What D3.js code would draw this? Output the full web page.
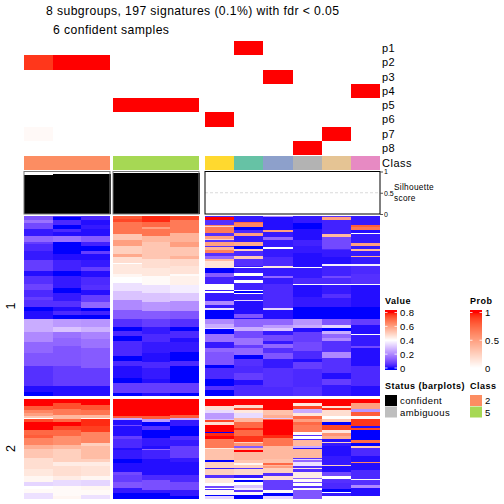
<!DOCTYPE html>
<html><head><meta charset="utf-8">
<script src="https://cdn.jsdelivr.net/npm/d3@7"></script>
<style>html,body{margin:0;padding:0;background:#fff}svg{display:block}text{font-family:"Liberation Sans",Arial,sans-serif;fill:#000}</style>
</head><body><svg id="c" width="504" height="504"></svg>
<script>
// Sample classes, probabilities of membership and silhouette scores
const probRows = ["p1","p2","p3","p4","p5","p6","p7","p8"];
const sampleClass = [2,2,2,5,5,5,6,1,3,8,7,4];
const p1 = [0,0,0,0,0,0,0,1,0,0,0,0];
const p2 = [0.92,1,1,0,0,0,0,0,0,0,0,0];
const p3 = [0,0,0,0,0,0,0,0,1,0,0,0];
const p4 = [0,0,0,0,0,0,0,0,0,0,0,1];
const p5 = [0,0,0,1,1,1,0,0,0,0,0,0];
const p6 = [0,0,0,0,0,0,1,0,0,0,0,0];
const p7 = [0.03,0,0,0,0,0,0,0,0,0,1,0];
const p8 = [0,0,0,0,0,0,0,0,0,1,0,0];
const silhouette = [0.92,0.94,0.94,0.975,0.975,0.975];
const legendValueTicks = [0,0.2,0.4,0.6,0.8];
const legendProbTicks = [0,0.5,1];
const legendStatus = ["confident","ambiguous"];
const legendClass = [2,5];

// Heatmap columns: run lengths [rows, value], signature cluster 1 (127 rows)
const h1s1 = [[3,.11],[2,.16],[4,.09],[5,.02],[4,.14],[2,.07],[5,.04],[6,.02],[8,.07],[3,.01],[6,.05],[4,.08],[5,.04],[2,.07],[5,.05],[3,0],[6,.01],[5,.26],[4,.26],[7,.2],[8,.14],[9,.11],[14,.05],[4,.01],[3,0]];
const h1s2 = [[1,.05],[2,0],[3,.04],[3,0],[2,.04],[3,.01],[4,.16],[9,0],[4,.01],[8,.03],[3,0],[4,.02],[5,.02],[3,0],[6,.02],[4,.05],[3,.01],[3,.04],[3,0],[5,.23],[4,.3],[4,.16],[6,.14],[14,.11],[14,.07],[7,.01]];
const h1s3 = [[3,.04],[3,.01],[3,.02],[5,.01],[4,.12],[3,.03],[4,0],[2,.07],[4,.01],[5,.02],[3,.07],[4,.01],[6,.04],[3,.05],[4,.01],[5,.07],[4,.14],[2,0],[3,.03],[3,0],[5,.22],[4,.27],[5,.19],[6,.16],[14,.12],[13,.07],[7,.01]];
const h1s4 = [[2,.72],[2,.75],[9,.68],[4,.52],[4,.6],[6,.5],[2,.58],[4,.47],[1,.4],[7,.45],[2,.42],[4,.4],[6,.35],[6,.3],[7,.2],[7,.12],[5,.05],[3,0],[4,.04],[3,0],[11,.04],[3,0],[4,.04],[8,.01],[4,0],[7,.07],[2,0]];
const h1s5 = [[4,.78],[4,.7],[1,.6],[5,.68],[4,.55],[7,.52],[5,.52],[7,.47],[5,.45],[7,.41],[5,.35],[7,.3],[6,.22],[6,.12],[5,.07],[5,.02],[6,.04],[8,.02],[6,.01],[4,.04],[8,.02],[3,.01],[7,.07],[2,.01]];
const h1s6 = [[3,.75],[9,.67],[6,.56],[4,.6],[6,.52],[2,.56],[5,.48],[6,.46],[1,.41],[7,.43],[5,.37],[6,.31],[7,.21],[6,.11],[5,.05],[3,0],[5,.04],[3,.01],[7,.02],[6,0],[4,.04],[12,0],[7,.07],[2,0]];
const h1s7 = [[1,.04],[2,.8],[3,.05],[1,.65],[1,.5],[4,.67],[2,.05],[2,.6],[1,.5],[1,.05],[3,.6],[1,.05],[2,.56],[2,.66],[2,.05],[2,.14],[2,.55],[5,.46],[3,0],[3,.12],[5,.03],[4,.4],[1,.02],[1,.4],[6,.02],[3,.2],[2,.02],[1,.35],[7,0],[3,.2],[3,.26],[1,.34],[3,0],[6,.16],[4,.02],[3,.14],[9,.11],[2,0],[8,.04],[5,0],[3,.05],[4,0]];
const h1s8 = [[4,.02],[1,.7],[3,.65],[2,0],[2,.04],[2,.6],[4,.02],[3,.58],[2,0],[2,.5],[3,.04],[2,.52],[5,.05],[1,.02],[1,.4],[3,.02],[2,.4],[3,.02],[2,.4],[5,.03],[1,.4],[1,0],[1,.4],[4,.02],[1,.33],[9,.01],[3,.11],[1,.01],[5,.14],[3,.26],[5,.09],[5,.16],[2,.07],[5,.14],[3,0],[5,.05],[5,.04],[5,.07],[3,.01],[8,.04]];
const h1s9 = [[1,.2],[9,.01],[1,.6],[4,.02],[2,.14],[5,.02],[1,.4],[6,.02],[6,.04],[2,.45],[5,.02],[2,.14],[4,.02],[11,.04],[6,.04],[1,.33],[7,.01],[4,.14],[2,.23],[2,.3],[3,.02],[4,.09],[2,.02],[3,.14],[4,.05],[4,.11],[6,.02],[3,.05],[11,.05],[6,.04]];
const h1s10 = [[5,.02],[4,0],[8,.01],[4,.03],[5,.02],[10,.01],[1,.4],[7,.02],[4,.04],[1,.4],[8,.01],[7,.02],[9,0],[4,.22],[2,.26],[3,.01],[7,.07],[6,.09],[6,.04],[2,.01],[5,.07],[13,.04],[6,.05]];
const h1s11 = [[1,.05],[2,.6],[10,.03],[2,.55],[8,.09],[1,.04],[5,.02],[5,.01],[1,.37],[7,.03],[2,.09],[4,.04],[1,.4],[6,.02],[3,.05],[6,.02],[9,0],[4,.11],[2,.33],[2,0],[2,.26],[3,.14],[2,.2],[8,.05],[4,.2],[4,.05],[7,.05],[4,.01],[4,.07],[8,.02]];
const h1s12 = [[6,.02],[2,.72],[2,.68],[2,.01],[1,.4],[6,.02],[2,.6],[2,.02],[2,.55],[3,.02],[1,.58],[5,.02],[1,.37],[6,.04],[7,.05],[1,.4],[15,.01],[9,0],[4,.07],[6,.01],[1,.4],[8,.02],[1,.09],[13,.01],[14,.04],[7,.01]];

// Heatmap columns, signature cluster 2 (70 rows)
const h2s1 = [[5,.8],[3,.72],[2,.65],[2,.6],[1,.52],[1,.4],[2,.75],[6,.8],[3,.7],[2,.72],[5,.65],[3,.57],[6,.52],[2,.47],[6,.47],[5,.45],[4,.42],[3,.33],[2,.4],[3,.41],[4,.35]];
const h2s2 = [[3,.8],[4,.74],[4,.67],[3,.55],[2,.7],[3,.8],[3,.75],[4,.7],[6,.63],[3,.55],[9,.5],[3,.44],[7,.47],[3,.44],[4,.34],[7,.41],[2,.42]];
const h2s3 = [[4,.8],[4,.73],[3,.68],[2,.55],[1,.42],[5,.78],[4,.76],[8,.65],[2,.5],[9,.54],[2,.5],[3,.44],[7,.46],[3,.42],[4,.33],[3,.42],[3,.41],[3,.35]];
const h2s4 = [[12,.8],[1,.72],[2,.26],[3,.01],[1,.09],[7,.01],[2,.07],[6,.04],[2,.01],[6,.02],[3,0],[6,.01],[2,.09],[5,.07],[4,.11],[4,.02],[4,0]];
const h2s5 = [[12,.8],[2,.72],[2,.23],[3,0],[3,.05],[5,0],[6,.02],[2,.01],[1,.14],[6,.03],[3,.01],[8,.01],[4,.04],[7,.1],[2,.02],[4,0]];
const h2s6 = [[11,.8],[2,.72],[2,.26],[4,.02],[7,0],[3,.04],[4,.02],[8,.07],[3,.02],[9,.01],[5,.04],[6,.09],[4,.02],[2,0]];
const h2s7 = [[5,.8],[3,.47],[2,.34],[4,.23],[1,.3],[1,.75],[2,.47],[5,.8],[1,0],[2,.78],[2,.8],[6,.67],[1,.45],[8,.53],[1,0],[4,.5],[1,.02],[4,.5],[2,.05],[4,.45],[2,.4],[1,.09],[1,.4],[1,.05],[3,.41],[1,0],[2,.33]];
const h2s8 = [[4,.8],[2,.48],[2,.75],[2,.45],[3,.34],[3,.55],[4,.7],[2,.78],[4,.7],[4,.77],[1,.5],[2,.62],[1,.12],[2,.55],[1,.8],[6,.55],[2,.52],[1,.42],[2,.5],[1,.05],[4,.48],[2,.02],[2,.41],[1,0],[2,.4],[2,.3],[2,.37],[1,.05],[2,.41],[3,0]];
const h2s9 = [[8,.8],[3,.53],[2,.57],[1,.31],[1,.7],[10,.8],[2,.78],[6,.68],[9,.55],[3,.53],[1,.7],[1,.55],[1,.6],[4,.5],[2,.05],[3,.47],[7,.07],[2,.41],[2,0],[2,.33]];
const h2s10 = [[3,.8],[2,.45],[2,.75],[3,.26],[2,.45],[2,.7],[2,.6],[2,.7],[5,.67],[2,.41],[1,.05],[2,.4],[1,.04],[4,.55],[1,.26],[1,.01],[6,.55],[1,.05],[1,.33],[1,.14],[3,.35],[1,.05],[1,.45],[2,.05],[4,.44],[1,.14],[2,.41],[1,.09],[2,.4],[1,.05],[2,.41],[6,.11]];
const h2s11 = [[5,.8],[1,.46],[2,.78],[4,.47],[2,.4],[2,.52],[2,0],[4,.75],[2,.45],[2,.62],[2,.57],[2,.01],[1,.5],[2,.02],[7,.01],[6,.02],[1,.5],[4,.01],[3,.09],[2,.4],[3,.05],[4,.04],[2,0],[1,.4],[2,.02],[2,.4]];
const h2s12 = [[3,.8],[4,.6],[2,.22],[3,.72],[2,.41],[5,.77],[1,.01],[2,.75],[7,0],[2,.7],[2,0],[1,.52],[6,.04],[4,.01],[1,.65],[5,.01],[6,.04],[1,.41],[3,.05],[2,.2],[6,.01],[2,.4]];

const cluster1 = [h1s1,h1s2,h1s3,h1s4,h1s5,h1s6,h1s7,h1s8,h1s9,h1s10,h1s11,h1s12];
const cluster2 = [h2s1,h2s2,h2s3,h2s4,h2s5,h2s6,h2s7,h2s8,h2s9,h2s10,h2s11,h2s12];
const probMatrix = [p1,p2,p3,p4,p5,p6,p7,p8];

const svg = d3.select("#c");
const valueColor = d3.scaleLinear().domain([0,0.4,0.8]).range(["#0000ff","#ffffff","#ff0000"]).interpolate(d3.interpolateLab).clamp(true);
const probColor = d3.scaleLinear().domain([0,1]).range(["#ffffff","#ff0000"]).interpolate(d3.interpolateLab);
const classColor = c => d3.schemeSet2[c-1];

// sample scales: three groups separated by gaps
const groups = [[0,3,24,110],[3,6,113,199],[6,12,205,380]];
const xOf = [], wOf = [];
groups.forEach(([a,b,x0,x1])=>{
  const s = d3.scaleBand().domain(d3.range(a,b)).range([x0,x1]);
  d3.range(a,b).forEach(i=>{xOf[i]=s(i);wOf[i]=s.bandwidth();});
});
const label = (x,y,size,t,ls)=>svg.append("text").attr("x",x).attr("y",y).attr("font-size",size).attr("letter-spacing",ls).text(t);

// title
label(46,14.5,12.2,"8 subgroups, 197 signatures (0.1%) with fdr < 0.05",0.4);
label(53,33.5,12.2,"6 confident samples",0.42);

// probability annotation
const yProb = d3.scaleBand().domain(probRows).range([41,155]);
probRows.forEach((r,ri)=>{
  svg.append("g").selectAll("rect").data(probMatrix[ri]).join("rect")
    .attr("x",(d,i)=>xOf[i]).attr("width",(d,i)=>wOf[i])
    .attr("y",yProb(r)).attr("height",yProb.bandwidth())
    .attr("fill",d=>probColor(d)).attr("shape-rendering","crispEdges");
  label(382,yProb(r)+yProb.bandwidth()/2+4,11,r,0.4);
});

// class annotation
svg.append("g").selectAll("rect").data(sampleClass).join("rect")
  .attr("x",(d,i)=>xOf[i]).attr("width",(d,i)=>wOf[i]).attr("y",156).attr("height",14)
  .attr("fill",classColor).attr("shape-rendering","crispEdges");
label(382,167,11,"Class",0.5);

// silhouette
const ySil = d3.scaleLinear().domain([0,1]).range([214,171.5]);
svg.append("g").selectAll("rect").data(silhouette).join("rect")
  .attr("x",(d,i)=>xOf[i]).attr("width",(d,i)=>wOf[i]+0.5)
  .attr("y",d=>ySil(d)).attr("height",d=>ySil(0)-ySil(d)).attr("fill","#000").attr("shape-rendering","crispEdges");
groups.forEach(([a,b,x0,x1],k)=>{
  if(k===2){
    svg.append("line").attr("x1",x0).attr("x2",x1).attr("y1",ySil(.5)).attr("y2",ySil(.5))
      .attr("stroke","#d0d0d0").attr("stroke-dasharray","3,2").attr("stroke-width",0.8);
  }
  svg.append("rect").attr("x",x0).attr("y",ySil(1)).attr("width",x1-x0).attr("height",ySil(0)-ySil(1))
    .attr("fill","none").attr("stroke",k===2?"#000":"#777").attr("stroke-width",1);
});
const silAxis = d3.axisRight(ySil).tickValues([0,0.5,1]).tickFormat(d3.format("")).tickSize(3).tickPadding(1);
const axG = svg.append("g").attr("transform","translate(380,0)").call(silAxis);
axG.select(".domain").remove();
axG.selectAll("line").attr("stroke","#555");
axG.selectAll("text").attr("font-size",7).attr("font-family","Liberation Sans");
label(394,190,8.3,"Silhouette",0.3);
label(394,201,8.3,"score",0.3);

// heatmaps
function drawCluster(cols, y0, y1){
  const n = d3.sum(cols[0], r=>r[0]);
  const y = d3.scaleLinear().domain([0,n]).range([y0,y1]);
  cols.forEach((runs,i)=>{
    let at = 0;
    const laid = runs.map(([c,v])=>{const o={s:at,c,v};at+=c;return o;});
    svg.append("g").selectAll("rect").data(laid).join("rect")
      .attr("x",xOf[i]).attr("width",wOf[i])
      .attr("y",d=>y(d.s)).attr("height",d=>y(d.s+d.c)-y(d.s))
      .attr("fill",d=>valueColor(d.v)).attr("shape-rendering","crispEdges");
  });
}
drawCluster(cluster1,216,396);
drawCluster(cluster2,399,499);
[[1,306],[2,448.5]].forEach(([t,cy])=>{
  svg.append("text").attr("transform",`translate(15,${cy}) rotate(-90)`).attr("text-anchor","middle")
    .attr("font-size",12.5).text(t);
});

// legends
function gradientLegend(x,title,dom,yRange,ticks,color,fmt){
  label(x,304,9,title,0.5).attr("font-weight","bold");
  const y = d3.scaleLinear().domain(dom).range(yRange);
  const top = 310, bottom = 370;
  svg.append("g").selectAll("rect").data(d3.range(top,bottom)).join("rect")
    .attr("x",x).attr("width",12).attr("y",d=>d).attr("height",1.2)
    .attr("fill",d=>color(Math.max(dom[0],Math.min(dom[1],y.invert(d+0.5))))).attr("shape-rendering","crispEdges");
  ticks.forEach(t=>{
    svg.append("line").attr("x1",x).attr("x2",x+2.5).attr("y1",y(t)).attr("y2",y(t)).attr("stroke","#fff").attr("stroke-width",0.8);
    svg.append("line").attr("x1",x+9.5).attr("x2",x+12).attr("y1",y(t)).attr("y2",y(t)).attr("stroke","#fff").attr("stroke-width",0.8);
    label(x+15,y(t)+3.5,9.5,fmt(t),0.4);
  });
}
gradientLegend(385,"Value",[0,0.8],[368,312.5],legendValueTicks,valueColor,d3.format(""));
gradientLegend(470,"Prob",[0,1],[368,312.5],legendProbTicks,probColor,d3.format(""));

label(385,389,9,"Status (barplots)",0.5).attr("font-weight","bold");
label(470,389,9,"Class",0.5).attr("font-weight","bold");
const statusColor = d3.scaleOrdinal().domain(legendStatus).range(["#000000","#bebebe"]);
const yLeg = d3.scaleBand().domain([0,1]).range([395,418]);
legendStatus.forEach((s,i)=>{
  svg.append("rect").attr("x",385).attr("y",yLeg(i)).attr("width",12).attr("height",yLeg.bandwidth()-0.5).attr("fill",statusColor(s));
  label(400,yLeg(i)+9,9.5,s,0.4);
});
legendClass.forEach((c,i)=>{
  svg.append("rect").attr("x",470).attr("y",yLeg(i)).attr("width",12).attr("height",yLeg.bandwidth()-0.5).attr("fill",classColor(c));
  label(485,yLeg(i)+9,9.5,c,0.4);
});
</script></body></html>
